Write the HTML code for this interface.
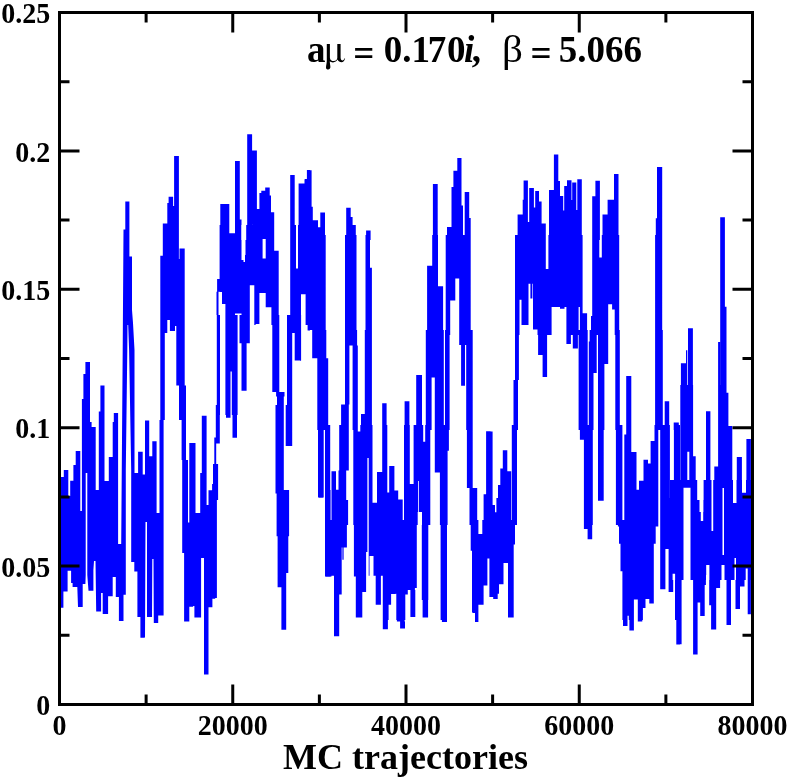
<!DOCTYPE html>
<html><head><meta charset="utf-8"><style>
html,body{margin:0;padding:0;background:#fff;width:789px;height:779px;overflow:hidden}
svg{display:block;will-change:transform}
text{font-family:"Liberation Serif",serif;font-weight:bold;fill:#000}
</style></head><body>
<svg width="789" height="779" viewBox="0 0 789 779">
<path d="M60.5 477 63.8 477 63.8 470 68.3 470 68.3 496 70.2 496 70.2 480.8 73.4 480.8 73.4 465 75.7 465 75.7 451 80.3 451 80.3 511 81.9 511 81.9 399 83.4 399 83.4 374 85.4 374 85.4 362 90 362 90 422 91.6 422 91.6 427 95.7 427 95.7 490 98.8 490 98.8 411.6 100.4 411.6 100.4 385.4 104.5 385.4 104.5 481 108.8 481 108.8 457 112.7 457 112.7 422 113.8 422 113.8 413 118.1 413 118.1 544 121.2 544 122.7 350 123.5 229.6 125.3 229.6 125.3 201.4 129.4 201.4 129.4 256.6 132 256.6 132 310 133 323 134.5 350 134.5 473 138.1 473 138.1 451.7 142.7 451.7 142.7 474.6 145 474.6 145 420.4 149.2 420.4 149.2 456.3 152.3 456.3 152.3 441.2 156.6 441.2 156.6 513 160.3 513 160.3 615.5 158.2 615.5 158.2 622.9 153.8 622.9 153.5 559 152.3 559 152 617 147 617 147 522 145.5 522 145 637 144.6 637.8 140.4 637.8 140.4 617 137.4 617 137.4 571.6 134.3 571.6 134.3 562 131.2 562 131.2 470 129.1 350 128.2 325 127.5 325 127.3 350 125.8 470 125.8 594.7 123.5 594.7 123.5 620.9 118.9 620.9 118.9 597 115.8 597 115.8 577 112.7 577 112.7 596.2 108.1 596.2 108.1 614 102.7 614 102.7 593 101.1 593 101.1 611.6 96.2 611.6 95.5 561 94 561 93.4 570 93.4 590.8 88.5 590.8 87.3 575 87.3 473 85.7 473 85.7 575 85.4 584 82.7 584 82.7 607 78 607 77.3 587 72.6 587 72.6 583 71.1 583 71.1 570.8 67.6 570.8 67.6 591.6 63.4 591.6 63.4 607.8 60.5 607.8ZM160.3 255.7H164.8V420H160.3ZM159.5 420H163.6V615.5H159.5ZM162.8 223.4H167.3V333H162.8ZM167.3 202.9H168.6V320H167.3ZM168.6 196.7H173.1V320H168.6ZM169.9 320H175V331H169.9ZM173.1 206.1H174.1V326H173.1ZM174.1 156H178.9V326H174.1ZM176.3 326H178.9V385.5H176.3ZM178.9 259H179.5V385.5H178.9ZM179.5 248.6H184.7V385.5H179.5ZM179 385.5H186V420H179ZM181.6 420H186V460H181.6ZM182.2 460H188V553H182.2ZM184.1 553H189.3V621.4H184.1ZM188 522.5H190.5V553H188ZM189.3 443.1H193.1V606.7H189.3ZM190.5 443.1H195.5V581H190.5ZM194.4 513H201.1V617.6H194.4ZM193.1 581H195V606H193.1ZM200.2 472.9H201.8V558H200.2ZM201.8 415.8H206.6V558H201.8ZM204 505H208.5V674.5H204ZM201 505H204V557.8H201ZM208.5 490.2H212.4V607.3H208.5ZM212.1 484H215.2V598.7H212.1ZM213 463.9H218.1V500H213ZM214.9 500H216.9V598H214.9ZM214.3 437.6H216.2V464H214.3ZM216.2 410H219.8V443.4H216.2ZM220.3 204H229.3V225H220.3ZM235 161H239.8V225H235ZM239.8 219.4H241.5V225H239.8ZM247.2 134.2H252.1V225H247.2ZM252.1 150.4H256.9V225H252.1ZM256.9 209H259.4V225H256.9ZM259.4 193H261.3V225H259.4ZM261.3 190.7H265.2V225H261.3ZM265.2 187.5H269.7V225H265.2ZM269.7 195.6H271V225H269.7ZM271 212.3H274.2V225H271ZM290.2 175H294.7V225H290.2ZM298.6 183.4H304.4V225H298.6ZM304.4 191.8H305.6V225H304.4ZM305 178.9H306.9V225H305ZM306.9 170H310V225H306.9ZM217.1 278.9H219.6V291.8H217.1ZM216.5 291.8H218.5V315H216.5ZM219.6 225H222V292H219.6ZM222 225H225.4V304H222ZM225.4 225H229.3V325H225.4ZM229.3 233.3H235V325H229.3ZM235 225H241.5V313.6H235ZM241.5 260H244V325H241.5ZM244 225H249.8V325H244ZM249.8 225H254.3V285.3H249.8ZM254.3 225H255.6V325H254.3ZM255.6 225H259.4V323.8H255.6ZM259.4 225H262.6V293H259.4ZM262.6 225H265.7V239H262.6ZM262.6 258.5H265.7V293H262.6ZM265.7 225H271.4V307.3H265.7ZM271.4 225H274.2V325H271.4ZM274.2 250.7H278.7V325H274.2ZM290.2 225H296V325H290.2ZM296 268.6H298V325H296ZM298 225H301V325H298ZM301 225H305.6V294.3H301ZM305.6 225H310V325H305.6ZM216.8 315H220V415H216.8ZM225.4 315H230.5V415H225.4ZM231.8 315H237.6V415H231.8ZM239.5 315H249.8V343.2H239.5ZM241.5 343.2H246.6V390.7H241.5ZM254.3 315H259.4V324H254.3ZM272.3 315H279.3V392H272.3ZM276.1 392H284.5V396.5H276.1ZM277 396.5H283.8V415H277ZM287 315H292.2V415H287ZM292.2 315H294.7V333H292.2ZM294.7 315H301.1V360.6H294.7ZM307.6 315H310V330.4H307.6ZM215.8 405H219.8V443.5H215.8ZM226 405H230.5V417.8H226ZM232.5 405H237V437.7H232.5ZM275.5 405H283.8V493.6H275.5ZM285.7 405H292.2V446H285.7ZM277.4 493.6H289V505H277.4ZM276.6 490H289.1V536.2H276.6ZM277.6 536.2H288.3V572.9H277.6ZM277.6 572.9H286.2V587.3H277.6ZM281.4 587.3H286.2V629.7H281.4ZM319 490H322.9V497.7H319ZM325.7 490H330.6V576.7H325.7ZM300 183.6H304.5V240H300ZM304.5 179.2H307.1V240H304.5ZM307.1 170.2H311.6V240H307.1ZM311.6 206.8H312.8V240H311.6ZM312.8 220.2H318V240H312.8ZM318 227.3H320.3V240H318ZM320.3 212.5H325V240H320.3ZM346.2 207.7H350.7V240H346.2ZM350.7 217H352.6V240H350.7ZM352 225H355.8V240H352ZM366.1 230.5H370.6V240H366.1ZM300 235H305.8V291.5H300ZM307.7 235H325.7V330H307.7ZM312.2 330H325.7V335H312.2ZM345 235H356.5V335H345ZM365.5 235H370V335H365.5ZM370 267.7H371.9V335H370ZM300 330H301V360.8H300ZM312.2 330H326.3V358.2H312.2ZM317.3 358.2H328.2V430H317.3ZM345 330H357.1V345.4H345ZM345 345.4H349.4V404.5H345ZM341.1 404.5H348.8V430H341.1ZM352.6 345.4H357.8V430H352.6ZM364.8 330H371.9V430H364.8ZM361 414H364.8V430H361ZM382.2 403.2H386.6V430H382.2ZM318 425H323.7V497.5H318ZM325 425H330.2V525H325ZM331.5 471.2H336V525H331.5ZM336 489.8H338.5V525H336ZM339.2 425H348.8V470.6H339.2ZM338.5 470.6H346.2V525H338.5ZM346.2 500H348.1V525H346.2ZM353.3 425H357.8V525H353.3ZM357.8 431.4H360.3V525H357.8ZM360.3 425H367.4V525H360.3ZM367.4 425H368.7V458H367.4ZM368.7 425H372.5V525H368.7ZM377 471.9H382.2V525H377ZM382.2 425H387.3V525H382.2ZM387.3 492.4H389.2V525H387.3ZM389.2 466H394.4V525H389.2ZM394.4 490.5H398.2V525H394.4ZM398.2 499.5H400V525H398.2ZM325 520H331.5V576.5H325ZM331.5 520H334V575.8H331.5ZM334 520H341.7V594.5H334ZM334 594.5H338.5V620H334ZM341.7 520H346.9V547.6H341.7ZM342.4 547.6H343.6V559.8H342.4ZM346.9 520H348.1V525H346.9ZM353.9 520H356.5V576.5H353.9ZM355.8 520H361.6V617.6H355.8ZM361.6 520H366.1V591.9H361.6ZM366.1 520H367.4V552H366.1ZM368.7 520H400V575.8H368.7ZM375.7 575.8H380.9V604.7H375.7ZM382.8 575.8H388.6V620H382.8ZM388.6 575.8H391.1V604.7H388.6ZM391.1 575.8H395.6V593.8H391.1ZM396.9 575.8H400V620H396.9ZM334 594.5H339.2V636.2H334ZM334 590H341.7V594.5H334ZM355.8 590H362.3V617.6H355.8ZM376.4 590H380.9V604.8H376.4ZM382.8 590H387.9V629.2H382.8ZM387.9 590H391.1V604.8H387.9ZM391.1 590H395.6V593.9H391.1ZM396.9 590H400V621.5H396.9ZM432.9 184H437.7V240H432.9ZM447 227H451.5V240H447ZM451.5 186.9H453.4V240H451.5ZM453.4 170.8H457.3V240H453.4ZM457.3 158H461.5V240H457.3ZM461.5 205.5H463V240H461.5ZM464.7 192H469.2V240H464.7ZM469.2 218H470.7V240H469.2ZM432.2 235H438V335H432.2ZM427.1 265.8H432.2V335H427.1ZM438 286.3H443.1V335H438ZM445.7 235H450.2V335H445.7ZM450.2 235H455.3V300.5H450.2ZM455.3 235H459.2V278.6H455.3ZM459.2 235H470.7V335H459.2ZM404.6 401.2H409.4V430H404.6ZM416.2 374.9H422V430H416.2ZM416.2 382.6H417.5V430H416.2ZM425.8 330H443.8V377.5H425.8ZM425.8 377.5H431.6V430H425.8ZM434.8 377.5H443.8V430H434.8ZM445 330H449.6V430H445ZM459.2 330H466.2V345H459.2ZM461.1 345H465V385.8H461.1ZM466.2 330H472.7V430H466.2ZM395 490.5H398.2V525H395ZM398.2 499.5H402.7V525H398.2ZM404 425H409.8V525H404ZM409.8 484H413.6V525H409.8ZM413.6 425H423.2V525H413.6ZM423.2 441.7H425.2V525H423.2ZM425.2 425H430.3V525H425.2ZM434.8 425H439.9V472.5H434.8ZM439.9 425H447.6V525H439.9ZM447.6 425H448.9V450.7H447.6ZM466.9 425H472.7V487.9H466.9ZM469.5 487.9H477.2V525H469.5ZM486.1 431.2H490.6V525H486.1ZM483.6 494.3H486.1V525H483.6ZM490.6 505H495V525H490.6ZM395 520H396.3V593.8H395ZM396.3 520H405.3V620H396.3ZM405.3 520H407.8V594.5H405.3ZM407.8 520H410.4V590H407.8ZM410.4 520H414.9V616.9H410.4ZM414.9 520H416.8V588H414.9ZM421.8 520H428.3V600H421.8ZM422.6 600H427.7V617.6H422.6ZM440.6 520H447V620H440.6ZM470.7 520H472V550.8H470.7ZM472 520H478.4V612.4H472ZM478.4 534H483.6V604.7H478.4ZM482.3 520H483.6V534H482.3ZM483.6 520H487.4V585.5H483.6ZM487.4 520H489.4V558.5H487.4ZM489.4 520H493.2V597H489.4ZM493.2 520H495V599H493.2ZM397 590H404.6V621.5H397ZM400.1 621.5H405V628.5H400.1ZM410.4 590H415.3V617H410.4ZM423 590H428.1V617.6H423ZM441.9 590H447V622.1H441.9ZM472.7 590H476V613H472.7ZM475 590H478.4V622H475ZM478.4 590H483.6V604.8H478.4ZM489.4 590H495V597H489.4ZM517.6 214.5H522.7V240H517.6ZM522.7 199.7H523.6V240H522.7ZM523.6 180.4H527.9V240H523.6ZM527.9 222H529.2V240H527.9ZM529.2 187.9H533.9V240H529.2ZM533.9 207.4H535.2V240H533.9ZM535.2 191H539V240H535.2ZM539 201.4H541.6V240H539ZM541.6 223.4H545.8V240H541.6ZM549 190H553.9V240H549ZM553.9 154.4H558.3V240H553.9ZM558.3 181H560V240H558.3ZM560 196.1H563.2V240H560ZM563.2 210.6H564.2V240H563.2ZM564.2 186H567V240H564.2ZM567 180.2H571.5V240H567ZM571.5 200H572.2V240H571.5ZM572.2 182.4H576.3V240H572.2ZM576.3 210H577.3V240H576.3ZM577.3 179.2H581.8V240H577.3ZM515 235H545.8V283.8H515ZM548.4 235H581.8V306.9H548.4ZM545.8 269H548.4V306.9H545.8ZM515 283.8H519.5V335H515ZM521.5 283.8H528.5V324.9H521.5ZM519.5 283.8H521.5V299.8H519.5ZM530.4 283.8H532.4V298.5H530.4ZM533 283.8H537.5V329.4H533ZM537.5 283.8H551.6V335H537.5ZM551.6 283.8H556.1V306.9H551.6ZM556.1 283.8H560V295.3H556.1ZM560 283.8H564.5V308.8H560ZM566.4 283.8H578.6V335H566.4ZM579.9 283.8H581.8V335H579.9ZM581.8 313.3H586.9V335H581.8ZM578.6 283.8H579.9V301.8H578.6ZM515 330H518.9V380H515ZM513.5 380H518V430H513.5ZM538.1 330H551.6V332.6H538.1ZM538.1 330H547.1V355H538.1ZM542.6 355H547.1V376.9H542.6ZM566.4 330H570.9V344.1H566.4ZM572.8 330H577.9V348.6H572.8ZM566.4 330H578.6V334H566.4ZM578.6 330H587.6V430H578.6ZM588.8 341.5H590V430H588.8ZM490.6 431.4H492.6V525H490.6ZM492.6 512.3H496.4V525H492.6ZM498 485H500.3V525H498ZM496.4 498H498V525H496.4ZM500.3 468.6H502.8V525H500.3ZM502.8 450.3H507.3V525H502.8ZM507.3 471.2H511.2V525H507.3ZM511.8 425H517V525H511.8ZM579.9 425H584.4V439.8H579.9ZM584.4 425H590V525H584.4ZM490 520H493.2V597H490ZM493.2 520H497.7V599H493.2ZM497.7 520H499V593.8H497.7ZM499 520H503.5V584.2H499ZM503.5 520H508V563H503.5ZM508 520H513.7V617.6H508ZM513.7 520H515V544.4H513.7ZM584.4 520H587.6V529H584.4ZM587.6 520H590V539.3H587.6ZM592.2 196.2H595.4V240H592.2ZM595.4 180.8H599.9V240H595.4ZM602.5 214.5H607.6V240H602.5ZM607.6 199.7H614V240H607.6ZM614 174H618.5V240H614ZM657 167H662.2V240H657ZM655.8 218.3H657V240H655.8ZM580 235H582.6V335H580ZM582.6 313.3H587.1V335H582.6ZM592.2 235H599.3V335H592.2ZM599.3 257.5H601.8V335H599.3ZM601.8 235H608.2V335H601.8ZM608.2 235H612.1V304.3H608.2ZM612.1 235H614.7V309.5H612.1ZM614.7 235H619.2V335H614.7ZM591 315.9H592.2V335H591ZM655.1 235H662.2V335H655.1ZM580 330H587.7V430H580ZM589.6 330H593.5V430H589.6ZM593.5 330H596.7V373H593.5ZM598 330H604.4V430H598ZM604.4 330H608.2V364H604.4ZM615.3 330H619.8V430H615.3ZM626.2 376H631.3V430H626.2ZM655.1 330H662.8V430H655.1ZM664.7 401.2H669.2V430H664.7ZM673.7 422.4H678.8V430H673.7ZM580 425H583.9V439.8H580ZM583.9 425H592.8V525H583.9ZM598 425H603.7V500.7H598ZM615.9 425H622.4V525H615.9ZM624.3 434.6H626.2V525H624.3ZM626.2 425H631.3V525H626.2ZM631.3 452H636.5V525H631.3ZM636.5 489.8H639V525H636.5ZM639 480.8H643.5V525H639ZM643.5 459.7H648V525H643.5ZM648 463.5H650.6V525H648ZM650.6 441H654.5V525H650.6ZM654.5 425H658.3V525H654.5ZM660.2 425H669.9V525H660.2ZM669.9 498.2H671.8V525H669.9ZM671.8 483.4H674.4V525H671.8ZM674.4 425H680V525H674.4ZM583.9 520H587.7V529H583.9ZM587.7 520H592.2V539.3H587.7ZM617.9 520H658.3V526.4H617.9ZM619 526.4H655.7V543.7H619ZM620.5 543.7H653.8V571.3H620.5ZM622.4 571.3H627.5V620H622.4ZM628.8 571.3H633.9V620H628.8ZM627.5 571.3H628.8V602H627.5ZM633.9 571.3H637.8V599.6H633.9ZM637.8 571.3H642.9V620H637.8ZM642.9 571.3H645.5V607.9H642.9ZM645.5 571.3H649.3V599H645.5ZM649.3 571.3H653.8V603.4H649.3ZM660.2 520H665.4V589.3H660.2ZM665.4 520H668.6V548.9H665.4ZM668.6 520H673.1V591.9H668.6ZM673.1 520H675V573.9H673.1ZM675 520H680V620H675ZM623 590H627.5V625.9H623ZM627.5 590H629.4V615.7H627.5ZM629.4 590H633.9V630.4H629.4ZM637.8 590H642.3V621.5H637.8ZM642.3 590H645.5V608H642.3ZM676.3 590H680V644.6H676.3ZM680.9 363.2H686V390H680.9ZM686 350.3H687.3V390H686ZM688 328.3H692.9V390H688ZM718.1 342H720.1V390H718.1ZM720.2 217.3H724.9V390H720.2ZM724.9 306.7H726.5V390H724.9ZM673.9 422.9H678.3V485H673.9ZM680.3 385H687.3V485H680.3ZM687.3 385H689.3V451.8H687.3ZM689.3 385H693.1V485H689.3ZM693.1 456.2H695.7V485H693.1ZM706 411.3H710.4V485H706ZM714.3 466.5H718.1V485H714.3ZM718.1 385H726.5V485H718.1ZM726.5 392.7H728.4V485H726.5ZM728.4 426H732.3V485H728.4ZM736.8 456.9H741.9V485H736.8ZM746.4 438.9H750.9V485H746.4ZM670 480H683.5V580H670ZM683.5 480H690.5V487.7H683.5ZM690.5 480H751V580H690.5ZM670 575H673.2V591.7H670ZM675.1 575H683.5V580H675.1ZM676.4 580H681.6V644.3H676.4ZM693.1 575H705.9V585H693.1ZM693.1 585H697.6V654.6H693.1ZM697.6 585H700.2V602.6H697.6ZM700.2 585H704.7V616.1H700.2ZM709.2 575H720.1V588H709.2ZM709.2 588H716.2V605.2H709.2ZM711.1 605.2H716.2V629.6H711.1ZM726.5 575H734.2V577H726.5ZM726.5 577H731V625H726.5ZM735.5 575H744.5V586.6H735.5ZM735.5 586.6H740V609H735.5ZM747.7 575H750.9V614.2H747.7ZM372.5 502.7H377V520H372.5ZM230.5 315H231.8V371.5H230.5Z" fill="#0000ff" fill-rule="nonzero"/>
<path d="M369.5 556H373.5V576H369.5ZM711.5 480H713.2V505H711.5ZM733 480H736.5V503H733ZM742 480H746V492.8H742ZM672.6 573.7H675.1V580H672.6ZM706 575H708.5V580H706ZM745.7 568.6H747.7V580H745.7ZM241.5 225H246.2V240H241.5ZM242.7 240H245.5V255H242.7ZM243.5 255H245V262H243.5ZM417.7 512H422V525H417.7ZM418 481H418.8V512H418ZM697.2 480H703.6V500H697.2ZM699.5 500H703.4V512H699.5ZM700.8 512H703.2V521H700.8ZM711.5 505H713.2V531H711.5ZM722.5 488H724V555H722.5ZM721.5 565H724.5V580H721.5ZM734.5 558H736V580H734.5ZM706.2 565H709.4V580H706.2Z" fill="#fff"/>
<g font-size="28">
<text transform="translate(59.50 734.8) scale(1 1.045)" text-anchor="middle">0</text>
<text transform="translate(232.75 734.8) scale(1 1.045)" text-anchor="middle">20000</text>
<text transform="translate(406.00 734.8) scale(1 1.045)" text-anchor="middle">40000</text>
<text transform="translate(579.25 734.8) scale(1 1.045)" text-anchor="middle">60000</text>
<text transform="translate(752.50 734.8) scale(1 1.045)" text-anchor="middle">80000</text>
<text transform="translate(50.2 715.20) scale(1 1.045)" text-anchor="end">0</text>
<text transform="translate(50.2 576.80) scale(1 1.045)" text-anchor="end">0.05</text>
<text transform="translate(50.2 438.40) scale(1 1.045)" text-anchor="end">0.1</text>
<text transform="translate(50.2 300.00) scale(1 1.045)" text-anchor="end">0.15</text>
<text transform="translate(50.2 161.60) scale(1 1.045)" text-anchor="end">0.2</text>
<text transform="translate(50.2 23.20) scale(1 1.045)" text-anchor="end">0.25</text>
</g>
<path d="M146.12 704.5v-10M146.12 12.5v10M232.75 704.5v-20M232.75 12.5v20M319.38 704.5v-10M319.38 12.5v10M406.00 704.5v-20M406.00 12.5v20M492.62 704.5v-10M492.62 12.5v10M579.25 704.5v-20M579.25 12.5v20M665.88 704.5v-10M665.88 12.5v10M59.5 635.30h10M752.5 635.30h-10M59.5 566.10h20M752.5 566.10h-20M59.5 496.90h10M752.5 496.90h-10M59.5 427.70h20M752.5 427.70h-20M59.5 358.50h10M752.5 358.50h-10M59.5 289.30h20M752.5 289.30h-20M59.5 220.10h10M752.5 220.10h-10M59.5 150.90h20M752.5 150.90h-20M59.5 81.70h10M752.5 81.70h-10" stroke="#000" stroke-width="3" fill="none"/>
<rect x="59.5" y="12.5" width="693" height="692" fill="none" stroke="#000" stroke-width="3"/>
<text x="283.1" y="769" font-size="36">MC trajectories</text>
<g font-size="37">
<text x="306.9" y="62">a</text>
<path d="M326.8 44.1H329.9V57.5C329.9 60.3 331.8 61.1 333.8 61.1C335.8 61.1 337.3 59.8 337.3 57.8V44.1H340.6V57.5C340.6 59.6 341.5 60.4 342.5 60.4C343.4 60.4 344.1 59.6 344.6 58.2L345.1 58.5C344.5 60.7 343.2 62.3 341.6 62.3C339.8 62.3 338.3 61.3 337.6 59.6C336.6 61.4 335 62.4 333 62.4C331.6 62.4 330.5 61.9 329.8 61.2C329.8 63.6 330.4 65.5 330.4 67.1C330.4 68.6 329.4 69.6 328.2 69.6C326.9 69.6 326 68.7 326 67.4C326 65.5 326.8 63.5 326.8 60.5Z" fill="#000"/>
<text x="353.3" y="65.8">=</text>
<text x="383.8" y="62">0.1</text>
<text x="427.8" y="62">7</text>
<text x="446.9" y="62">0</text>
<text x="464.1" y="62" style="font-style:italic">i</text>
<text x="471.7" y="62">,</text>
<text transform="translate(502 62) scale(1.11 1)" style="font-weight:normal">β</text>
<text x="530.5" y="65.8">=</text>
<text x="558.8" y="62">5.066</text>
</g>
</svg>
</body></html>
